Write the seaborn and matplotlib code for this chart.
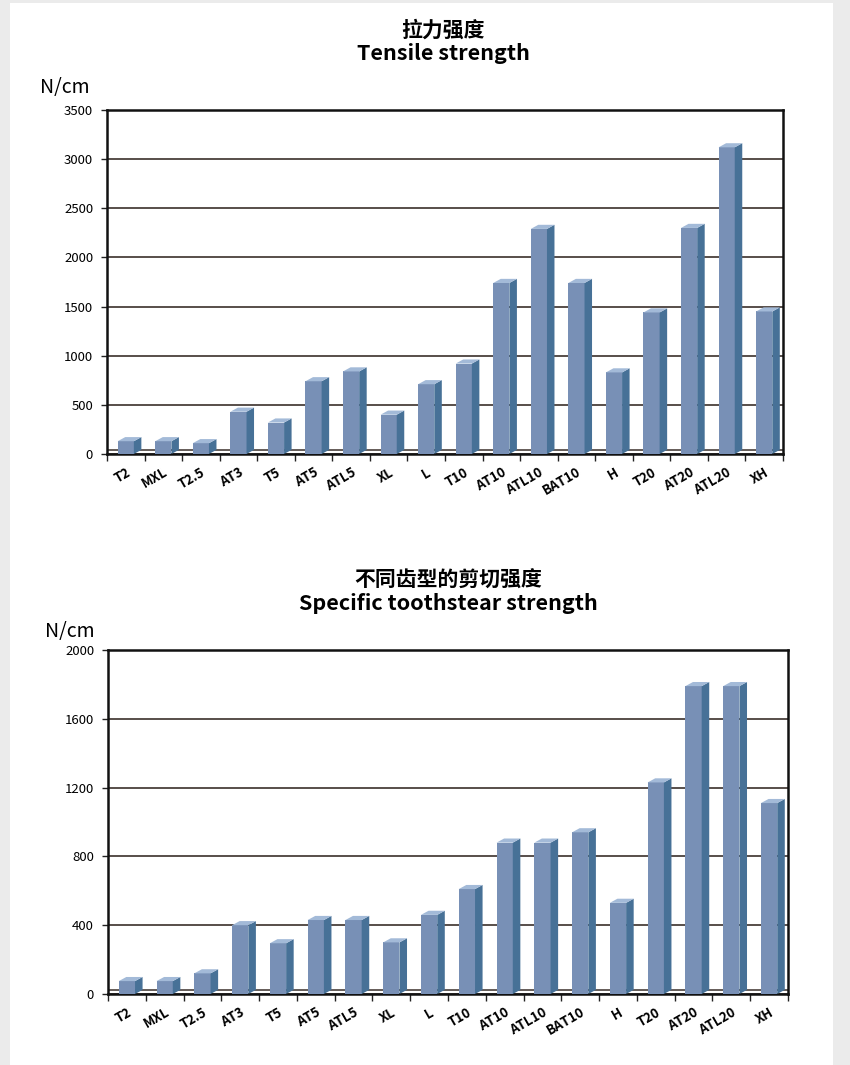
import numpy as np
import pandas as pd
import seaborn as sns
import matplotlib.pyplot as plt
from matplotlib.patches import Polygon, Rectangle

# datos
perfiles = ['T2', 'MXL', 'T2.5', 'AT3', 'T5', 'AT5', 'ATL5', 'XL', 'L', 'T10',
            'AT10', 'ATL10', 'BAT10', 'H', 'T20', 'AT20', 'ATL20', 'XH']
traccion = [130, 130, 110, 430, 320, 740, 840, 400, 710, 920,
            1740, 2290, 1740, 830, 1440, 2300, 3120, 1450]
corte = [75, 75, 120, 400, 295, 430, 430, 300, 460, 610,
         880, 880, 940, 530, 1230, 1790, 1790, 1110]
ticks_traccion = [0, 500, 1000, 1500, 2000, 2500, 3000, 3500]
ticks_corte = [0, 400, 800, 1200, 1600, 2000]

frente = '#7890b6'
lado = '#477197'
tapa = '#a3bad8'

sns.set_style('white')
plt.rcParams['font.family'] = ['Noto Sans CJK SC', 'DejaVu Sans']
plt.rcParams['text.color'] = 'black'
plt.rcParams['xtick.color'] = 'black'
plt.rcParams['ytick.color'] = 'black'

fig = plt.figure(figsize=(8.5, 10.65), dpi=100)
fig.patch.set_facecolor('#ebebeb')
fig.patches.append(Rectangle((10 / 850, 0), 823 / 850, 1 - 3 / 1065,
                             transform=fig.transFigure, facecolor='white',
                             edgecolor='none', zorder=-10))


def grafico(rect, valores, yticks, titulo_cn, titulo_en, x_tit, y_cn, y_en, x_unidad, y_unidad):
    ax = fig.add_axes(rect)
    df = pd.DataFrame({'perfil': perfiles, 'valor': valores})
    sns.barplot(data=df, x='perfil', y='valor', color=frente, width=0.43,
                saturation=1, edgecolor='none', ax=ax, zorder=3)
    ymax = yticks[-1]
    dx = 0.2
    dy = ymax * 0.012
    # caras laterales y tapas para el efecto 3D
    for p in list(ax.patches):
        x0 = p.get_x()
        x1 = x0 + p.get_width()
        h = p.get_height()
        ax.add_patch(Polygon([(x1, 0), (x1 + dx, dy), (x1 + dx, h + dy), (x1, h)],
                             closed=True, facecolor=lado, edgecolor='none', zorder=3))
        ax.add_patch(Polygon([(x0, h), (x0 + dx, h + dy), (x1 + dx, h + dy), (x1, h)],
                             closed=True, facecolor=tapa, edgecolor='none', zorder=3))
    ax.axhline(dy, color='#3b302b', lw=1.1, zorder=2)
    ax.set_xlim(-0.5, len(perfiles) - 0.5)
    ax.set_ylim(0, ymax)
    ax.set_yticks(yticks)
    ax.set_yticklabels([str(t) for t in yticks], fontsize=9.5)
    ax.yaxis.grid(True, color='#3b302b', lw=1.2)
    ax.set_axisbelow(True)
    ax.set_xticks(np.arange(-0.5, len(perfiles) + 0.5), minor=True)
    ax.set_xticks(np.arange(len(perfiles)))
    ax.set_xticklabels(perfiles, rotation=30, ha='right', rotation_mode='anchor',
                       fontsize=9.5, fontweight='semibold')
    ax.tick_params(axis='x', which='major', length=0, pad=8)
    ax.tick_params(axis='x', which='minor', length=5, width=1, color='#222222', bottom=True)
    ax.tick_params(axis='y', length=4, width=1, color='#222222', left=True, pad=6)
    ax.set_xlabel('')
    ax.set_ylabel('')
    for s in ax.spines.values():
        s.set_visible(True)
        s.set_color('#111111')
        s.set_linewidth(1.8)
    fig.text(x_tit, 1 - y_cn / 1065, titulo_cn, ha='center', va='center',
             fontsize=15, fontweight='bold')
    fig.text(x_tit, 1 - y_en / 1065, titulo_en, ha='center', va='center',
             fontsize=15.5, fontweight='bold')
    fig.text(x_unidad / 850, 1 - y_unidad / 1065, 'N/cm', ha='left', va='center',
             fontsize=14)
    return ax


grafico([107 / 850, 1 - 454 / 1065, 676 / 850, 344 / 1065], traccion, ticks_traccion,
        '拉力强度', 'Tensile strength', 443 / 850, 30, 53, 40, 88)
grafico([108 / 850, 1 - 994 / 1065, 680 / 850, 344 / 1065], corte, ticks_corte,
        '不同齿型的剪切强度', 'Specific toothstear strength', 448 / 850, 580, 604, 45, 632)

plt.savefig('out.png', dpi=100, facecolor=fig.get_facecolor())
